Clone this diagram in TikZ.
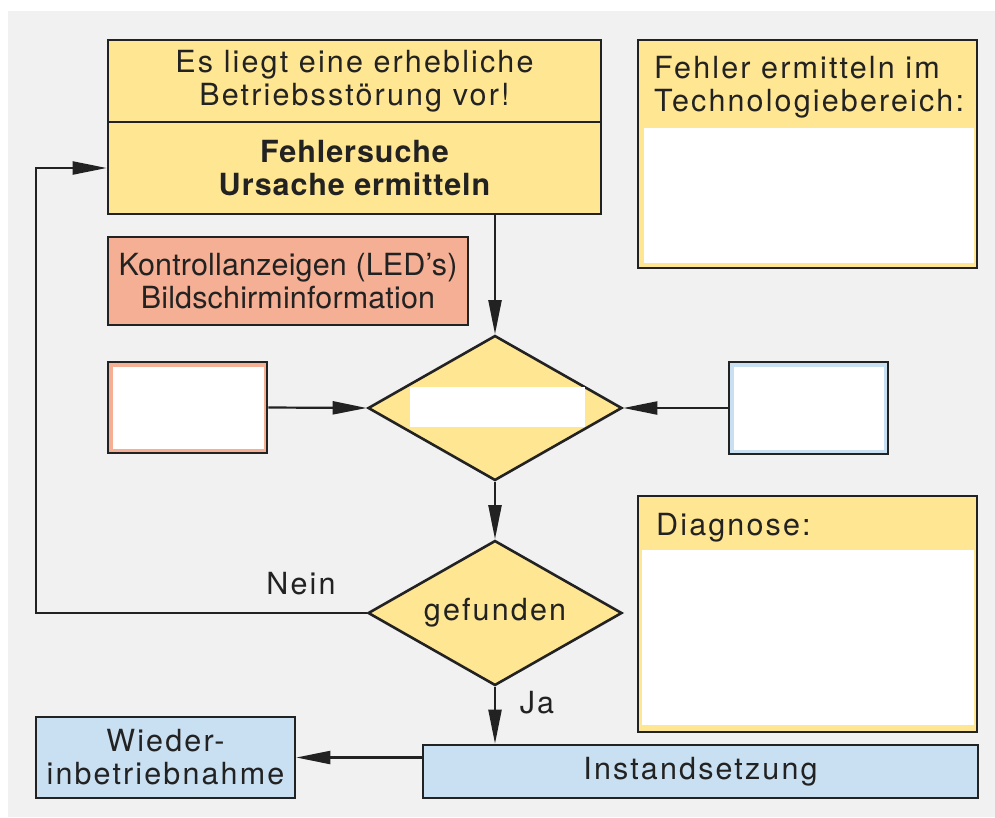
\documentclass[tikz,border=0pt]{standalone}
\usepackage{fontspec}
\setmainfont{TeX Gyre Heros}[LetterSpace=7]
\newfontfamily\orgfont{TeX Gyre Heros}[LetterSpace=0.5]
\newfontfamily\boldfont{TeX Gyre Heros Bold}[LetterSpace=3]
\usetikzlibrary{arrows.meta,shapes.geometric}
\definecolor{bg}{HTML}{F1F1F1}
\definecolor{yel}{HTML}{FFE693}
\definecolor{org}{HTML}{F4AF94}
\definecolor{blu}{HTML}{C9E0F2}
\definecolor{ink}{HTML}{222222}
\tikzset{
  box/.style={draw=ink,line width=2.6pt,rectangle,inner sep=0pt,align=center,text=ink},
  dia/.style={draw=ink,line width=2.6pt,diamond,fill=yel,inner sep=0pt,minimum width=254pt,minimum height=145pt,text=ink},
  conn/.style={draw=ink,line width=2.2pt},
  arr/.style={conn,-{Triangle[length=34pt,width=13pt]}},
  lbl/.style={text=ink,inner sep=0pt},
  txt/.style={font=\fontsize{30.5}{33}\selectfont}
}
\begin{document}
\begin{tikzpicture}[x=1pt,y=-1pt,txt]
\useasboundingbox (0,0) rectangle (995,817);
\fill[bg] (8,11) rectangle (995,817);
% top box
\node[box,fill=yel,minimum width=493pt,minimum height=82pt] (topA) at (354.5,81) {Es liegt eine erhebliche\\Betriebsstörung vor!};
\node[box,fill=yel,minimum width=493pt,minimum height=92pt,font=\fontsize{30.5}{33}\boldfont] (topB) at (354.5,168) {Fehlersuche\\Ursache ermitteln};
% orange info box
\node[box,fill=org,minimum width=360pt,minimum height=88pt,font=\fontsize{30.5}{33}\orgfont] (info) at (288,281) {Kontrollanzeigen (LED’s)\\Bildschirminformation};
% right top box
\node[box,fill=yel,minimum width=339pt,minimum height=228pt] (tech) at (807.5,154) {};
\fill[white] (644,128) rectangle (974,263);
\node[lbl,anchor=west,align=left] (techT) at (654,87) {Fehler ermitteln im\\Technologiebereich:};
% diagnose box
\node[box,fill=yel,minimum width=339pt,minimum height=236pt] (diag) at (807.5,614) {};
\fill[white] (642,550) rectangle (974,725);
\node[lbl,anchor=west] (diagT) at (656,528) {Diagnose:};
% side boxes
\node[box,fill=org,minimum width=159pt,minimum height=91pt] (lbox) at (187.5,407.5) {};
\fill[white] (113,367) rectangle (264,449);
\node[box,fill=blu,minimum width=159pt,minimum height=92pt] (rbox) at (808.5,408) {};
\fill[white] (734,367) rectangle (884,450);
% diamonds
\node[dia] (d1) at (495,408) {};
\fill[white] (410,387) rectangle (585,427);
\node[dia] (d2) at (495,613) {};
\node[lbl] (d2t) at (d2.center) {gefunden};
% bottom boxes
\node[box,fill=blu,minimum width=555pt,minimum height=53pt] (inst) at (700.5,771.5) {Instandsetzung};
\node[box,fill=blu,minimum width=259pt,minimum height=81pt] (wied) at (165.5,757.5) {Wieder-\\inbetriebnahme};
% connectors
\draw[arr] (topB.south -| d1.north) -- (d1.north);
\draw[arr] (lbox.east) -- (d1.west);
\draw[arr] (rbox.west) -- (d1.east);
\draw[arr] (d1.south) -- (d2.north);
\draw[arr] (d2.south) -- (inst.north -| d2.south);
\draw[arr] (inst.west |- wied.east) -- (wied.east);
\coordinate (loop) at (36,613);
\draw[arr] (d2.west) -- (loop) |- (topB.west);
\node[lbl] (nein) at (301,584) {Nein};
\node[lbl] (ja) at (537,703) {Ja};
\end{tikzpicture}
\end{document}
